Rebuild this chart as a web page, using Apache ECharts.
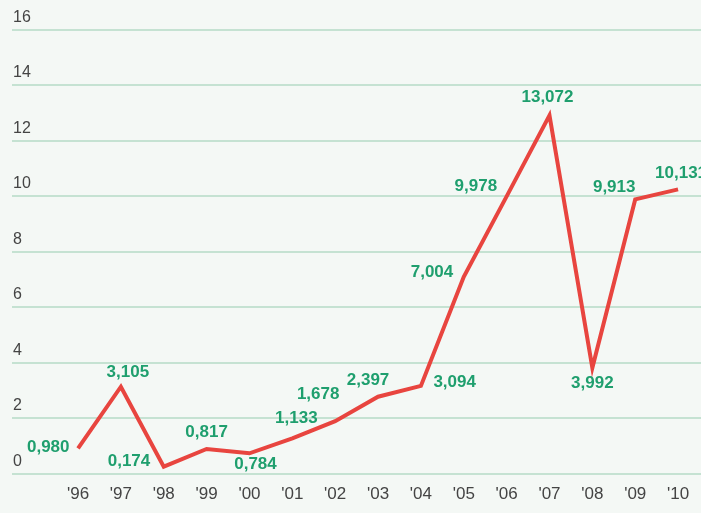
<!DOCTYPE html>
<html><head><meta charset="utf-8">
<script src="https://cdn.jsdelivr.net/npm/echarts@6/dist/echarts.min.js"></script>
<style>html,body{margin:0;padding:0;background:#f4f8f5}#c{width:701px;height:513px}</style>
</head><body><div id="c"></div>
<script>
const years = ["'96","'97","'98","'99","'00","'01","'02","'03","'04","'05","'06","'07","'08","'09","'10"];
const values = [0.90, 3.12, 0.24, 0.875, 0.72, 1.26, 1.88, 2.76, 3.15, 7.08, 9.98, 12.9, 3.8, 9.87, 10.23];
const valueLabels = ["0,980","3,105","0,174","0,817","0,784","1,133","1,678","2,397","3,094","7,004","9,978","13,072","3,992","9,913","10,131"];
const yMin = 0, yMax = 16, yStep = 2;

// label placement (style only)
const place = [
  {position:'left', distance:8, offset:[0,-1]},
  {position:'top', distance:5, offset:[7,0]},
  {position:'left', distance:13, offset:[0,-5]},
  {position:'top', distance:8, offset:[0,0]},
  {position:'bottom', distance:2, offset:[6,0]},
  {position:'top', distance:11, offset:[4,0]},
  {position:'top', distance:18, offset:[-17,0]},
  {position:'top', distance:7, offset:[-10,0]},
  {position:'right', distance:12, offset:[0,-4]},
  {position:'left', distance:10, offset:[0,-5]},
  {position:'left', distance:9, offset:[0,-10]},
  {position:'top', distance:9, offset:[-2,0]},
  {position:'bottom', distance:6, offset:[0,0]},
  {position:'top', distance:3, offset:[-21,0]},
  {position:'top', distance:7, offset:[3,0]}
];

const green = '#1f9f6e';
const seriesData = values.map((v,i)=>({
  value: v,
  label: Object.assign({show:true, formatter: valueLabels[i]}, place[i])
}));

const chart = echarts.init(document.getElementById('c'), null, {renderer:'canvas'});
const gTop = 29.3, gBottom = 39.7;
chart.setOption({
  backgroundColor: '#f4f8f5',
  animation: false,
  grid: [
    {left: 12, right: 0, top: gTop, bottom: gBottom},
    {left: 56.6, right: 1.5, top: gTop, bottom: gBottom}
  ],
  xAxis: [
    {type:'value', gridIndex:0, show:false, min:0, max:1},
    {type:'category', gridIndex:1, data: years, boundaryGap:true,
     axisLine:{show:false}, axisTick:{show:false},
     axisLabel:{color:'#444', fontSize:17, margin:13, fontFamily:'Liberation Sans, Arial, sans-serif'}}
  ],
  yAxis: [
    {type:'value', gridIndex:0, min:yMin, max:yMax, interval:yStep,
     axisLine:{show:false}, axisTick:{show:false},
     splitLine:{show:true, lineStyle:{color:'#b6dbc6', width:1.5}},
     axisLabel:{inside:true, margin:1, verticalAlign:'bottom', padding:[0,0,4,0],
       color:'#444', fontSize:16, fontFamily:'Liberation Sans, Arial, sans-serif'}},
    {type:'value', gridIndex:1, min:yMin, max:yMax, interval:yStep, show:false, splitLine:{show:false}}
  ],
  series: [{
    type:'line', xAxisIndex:1, yAxisIndex:1,
    data: seriesData,
    symbol:'circle', symbolSize:1, showSymbol:true,
    itemStyle:{color:'rgba(0,0,0,0)'},
    lineStyle:{color:'#e8453f', width:4, join:'miter', cap:'butt'},
    label:{show:true, color:green, fontSize:17, fontWeight:'bold', fontFamily:'Liberation Sans, Arial, sans-serif'}
  }]
});
</script>
</body></html>
